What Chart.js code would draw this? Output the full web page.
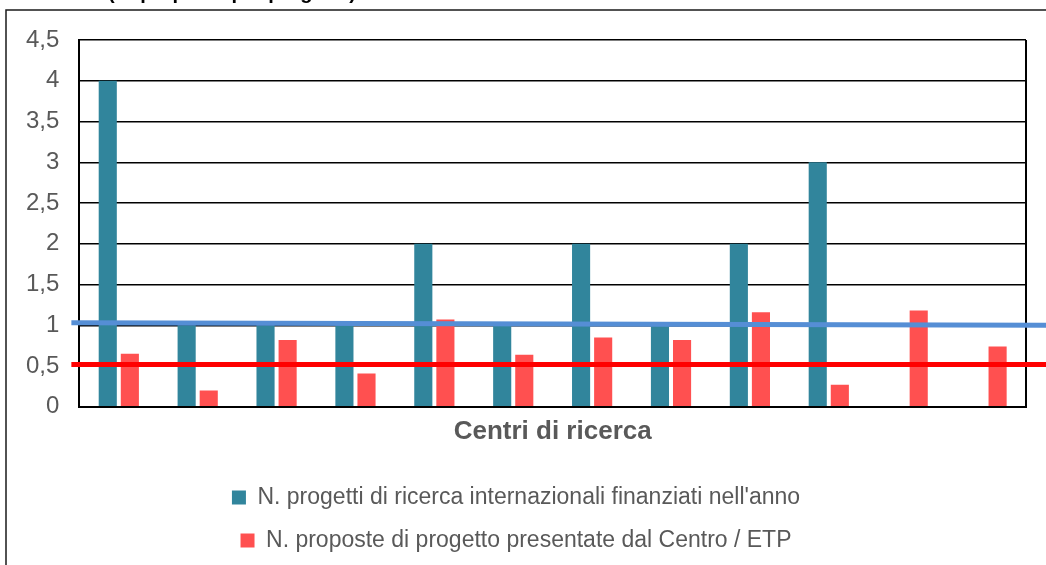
<!DOCTYPE html>
<html>
<head>
<meta charset="utf-8">
<script src="https://cdn.jsdelivr.net/npm/chart.js@4/dist/chart.umd.min.js"></script>
<style>
  html, body { margin: 0; padding: 0; background: #fff; }
  #wrap { width: 1046px; height: 565px; }
</style>
</head>
<body>
<div id="wrap"><canvas id="barChart" width="1046" height="565"></canvas></div>
<script>
// Data
const categories = ['C1', 'C2', 'C3', 'C4', 'C5', 'C6', 'C7', 'C8', 'C9', 'C10', 'C11', 'C12'];
const fundedProjects = [4, 1, 1, 1, 2, 1, 2, 1, 2, 3, 0, 0];
const submittedProposals = [0.65, 0.20, 0.82, 0.41, 1.07, 0.64, 0.85, 0.82, 1.16, 0.27, 1.18, 0.74];
const yTickLabels = ['0', '0,5', '1', '1,5', '2', '2,5', '3', '3,5', '4', '4,5'];

// Overlay reference lines (value at left end, value at right end)
const blueLine = [1.03, 1.00];
const redLine = [0.52, 0.52];

const seriesNames = [
    "N. progetti di ricerca internazionali finanziati nell'anno",
    'N. proposte di progetto presentate dal Centro / ETP'
];
const topTitle = '(N. proposte per progetto)';

Chart.defaults.font.family = "'Liberation Sans', Arial, sans-serif";
Chart.defaults.color = '#595959';

// Outer frame, cut title, plot border and overlay lines
const decorations = {
    id: 'decorations',
    beforeDraw(chart) {
        const c = chart.ctx;
        c.save();
        c.fillStyle = '#fff';
        c.fillRect(0, 0, chart.width, chart.height);
        c.strokeStyle = '#1a1a1a';
        c.lineWidth = 1.5;
        c.strokeRect(6, 10, chart.width + 20, chart.height + 20);
        c.fillStyle = '#000';
        c.font = "bold 20px 'Liberation Sans', Arial, sans-serif";
        c.textAlign = 'center';
        c.textBaseline = 'alphabetic';
        c.fillText(topTitle, 232, -1.5);
        c.restore();
    },
    afterDatasetsDraw(chart) {
        const c = chart.ctx;
        const a = chart.chartArea;
        const y = chart.scales.y;
        c.save();
        c.strokeStyle = '#000';
        c.lineWidth = 2;
        c.beginPath();
        c.moveTo(a.right, a.top);
        c.lineTo(a.right, a.bottom);
        c.stroke();

        const x0 = a.left - 8;
        const x1 = chart.width;
        c.lineWidth = 5;
        c.strokeStyle = '#558ED5';
        c.beginPath();
        c.moveTo(x0, y.getPixelForValue(blueLine[0]));
        c.lineTo(x1, y.getPixelForValue(blueLine[1]));
        c.stroke();
        c.strokeStyle = '#FF0000';
        c.beginPath();
        c.moveTo(x0, y.getPixelForValue(redLine[0]));
        c.lineTo(x1, y.getPixelForValue(redLine[1]));
        c.stroke();
        c.restore();
    }
};

const data = {
    labels: categories,
    datasets: [
        {
            label: seriesNames[0],
            data: fundedProjects,
            backgroundColor: '#31859C',
            categoryPercentage: 0.56,
            barPercentage: 0.82
        },
        {
            label: seriesNames[1],
            data: submittedProposals,
            backgroundColor: '#FF5050',
            categoryPercentage: 0.56,
            barPercentage: 0.82
        }
    ]
};

const config = {
    type: 'bar',
    data: data,
    plugins: [decorations],
    options: {
        responsive: false,
        animation: false,
        layout: {
            padding: { top: 40, left: 6, right: 20, bottom: 3 }
        },
        scales: {
            x: {
                ticks: { display: false },
                grid: { display: false },
                border: { display: true, color: '#000', width: 2 },
                title: {
                    display: true,
                    text: 'Centri di ricerca',
                    color: '#595959',
                    font: { size: 26, weight: 'bold' },
                    padding: { top: 1, bottom: 19 }
                }
            },
            y: {
                min: 0,
                max: 4.5,
                ticks: {
                    stepSize: 0.5,
                    padding: 20,
                    color: '#595959',
                    font: { size: 24 },
                    callback: (v, i) => yTickLabels[i]
                },
                grid: { color: '#000', lineWidth: 1.5, drawTicks: false },
                border: { display: true, color: '#000', width: 2 }
            }
        },
        plugins: {
            legend: {
                position: 'bottom',
                labels: {
                    color: '#595959',
                    font: { size: 23 },
                    boxWidth: 14,
                    boxHeight: 14,
                    padding: 20,
                    useBorderRadius: false
                }
            },
            tooltip: { enabled: false }
        }
    }
};

const ctx = document.getElementById('barChart').getContext('2d');
new Chart(ctx, config);
</script>
</body>
</html>
